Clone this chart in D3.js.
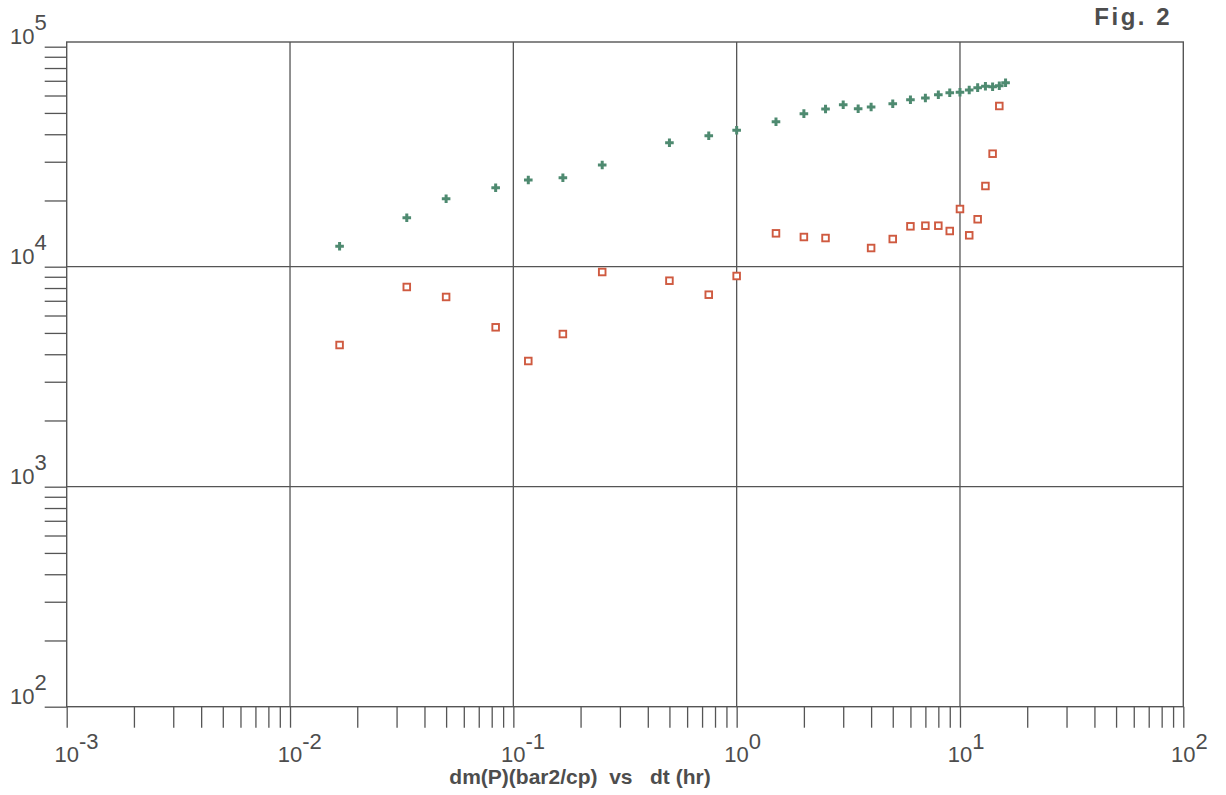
<!DOCTYPE html>
<html>
<head>
<meta charset="utf-8">
<script src="https://cdn.jsdelivr.net/npm/d3@7"></script>
<style>
  html, body { margin: 0; padding: 0; background: #fff; }
  svg { display: block; }
  text { font-family: "Liberation Sans", Arial, Helvetica, sans-serif; fill: #4d4d4d; }
</style>
</head>
<body>
<svg id="chart" width="1226" height="795"></svg>
<script>
// ---- data (times in hours) ----
const times = [0.01667, 0.03333, 0.05, 0.08333, 0.11667, 0.16667, 0.25, 0.5, 0.75, 1.0,
               1.5, 2, 2.5, 3, 3.5, 4, 5, 6, 7, 8, 9, 10, 11, 12, 13, 14, 15, 16];
const mPressure = [12380, 16700, 20370, 22860, 24780, 25380, 28990, 36610, 39390, 41690,
                   45610, 49610, 52100, 54500, 52250, 53200, 55080, 57430, 58440, 60510,
                   61800, 62060, 63560, 65130, 66070, 65790, 66490, 68580];
const derivative = [4406, 8087, 7285, 5303, 3727, 4943, 9460, 8636, 7460, 9073,
                    14180, 13645, 13500, null, null, 12160, 13360, 15260, 15360, 15360,
                    14530, 18290, 13890, 16430, 23270, 32630, 53770, null];
const xDecades = [-3, -2, -1, 0, 1, 2];
const yDecades = [2, 3, 4, 5];
const xTitle = "dm(P)(bar2/cp)  vs   dt (hr)";
const figLabel = "Fig. 2";

// ---- layout ----
const svg = d3.select("#chart");
const pL = 66.7, pR = 1183.3, pT = 42, pB = 706.7;
const x = d3.scaleLog().domain([1e-3, 1e2]).range([pL, pR]);
const y = d3.scaleLog().domain([1e2, 1e5]).range([706.7, 46.7]);
const ink = "#555";

// minor + major tick values
const xTicks = [];
for (let d = -3; d < 2; d++) for (let m = 1; m < 10; m++) xTicks.push(m * Math.pow(10, d));
xTicks.push(1e2);
const yTicks = [];
for (let d = 2; d < 5; d++) for (let m = 1; m < 10; m++) yTicks.push(m * Math.pow(10, d));
yTicks.push(1e5);

// grid lines at decades
const g = svg.append("g");
g.selectAll("line.vg").data(xDecades.slice(1, -1)).enter().append("line")
  .attr("x1", d => x(Math.pow(10, d))).attr("x2", d => x(Math.pow(10, d)))
  .attr("y1", pT).attr("y2", pB)
  .attr("stroke", ink).attr("stroke-width", 1.3);
g.selectAll("line.hg").data(yDecades.slice(1, -1)).enter().append("line")
  .attr("x1", pL).attr("x2", pR)
  .attr("y1", d => y(Math.pow(10, d))).attr("y2", d => y(Math.pow(10, d)))
  .attr("stroke", ink).attr("stroke-width", 1.3);

// frame
g.append("rect").attr("x", pL).attr("y", pT)
  .attr("width", pR - pL).attr("height", pB - pT)
  .attr("fill", "none").attr("stroke", ink).attr("stroke-width", 1.4);

// axes ticks
const xAxis = d3.axisBottom(x).tickValues(xTicks).tickSize(21).tickFormat("");
svg.append("g").attr("transform", `translate(0,${pB})`).call(xAxis)
  .call(s => s.select(".domain").remove())
  .call(s => s.selectAll("line").attr("stroke", ink).attr("stroke-width", 1.3));
const yAxis = d3.axisLeft(y).tickValues(yTicks).tickSize(22).tickFormat("");
svg.append("g").attr("transform", `translate(${pL},0)`).call(yAxis)
  .call(s => s.select(".domain").remove())
  .call(s => s.selectAll("line").attr("stroke", ink).attr("stroke-width", 1.3));

// x labels
xDecades.forEach(d => {
  const t = svg.append("text").attr("x", x(Math.pow(10, d)) - 12.3).attr("y", 762)
    .attr("font-size", 22);
  t.append("tspan").text("10");
  t.append("tspan").attr("dy", -13).text(String(d));
});
// y labels
yDecades.forEach(d => {
  const t = svg.append("text").attr("x", 10).attr("y", y(Math.pow(10, d)) - 2.5)
    .attr("font-size", 22);
  t.append("tspan").text("10");
  t.append("tspan").attr("dy", -14).text(String(d));
});

// titles
svg.append("text").attr("x", 580).attr("y", 784).attr("text-anchor", "middle")
  .attr("font-size", 21).attr("font-weight", "bold").style("white-space", "pre")
  .text(xTitle);
svg.append("text").attr("x", 1172).attr("y", 25).attr("text-anchor", "end")
  .attr("font-size", 24).attr("font-weight", "bold").attr("letter-spacing", 2.5)
  .style("white-space", "pre").text(figLabel);

// green plus markers
const plus = "M-1.5,-4.3 L1.5,-4.3 L1.5,-1.5 L4.3,-1.5 L4.3,1.5 L1.5,1.5 L1.5,4.3 L-1.5,4.3 L-1.5,1.5 L-4.3,1.5 L-4.3,-1.5 L-1.5,-1.5 Z";
svg.append("g").selectAll("path").data(times.map((t, i) => [t, mPressure[i]]).filter(d => d[1] != null))
  .enter().append("path")
  .attr("d", plus)
  .attr("transform", d => `translate(${x(d[0])},${y(d[1])})`)
  .attr("fill", "#4e8a70");

// red square markers
svg.append("g").selectAll("rect").data(times.map((t, i) => [t, derivative[i]]).filter(d => d[1] != null))
  .enter().append("rect")
  .attr("x", d => x(d[0]) - 3.3).attr("y", d => y(d[1]) - 3.3)
  .attr("width", 6.6).attr("height", 6.6)
  .attr("fill", "#fff").attr("stroke", "#cf5a40").attr("stroke-width", 1.9);
</script>
</body>
</html>
